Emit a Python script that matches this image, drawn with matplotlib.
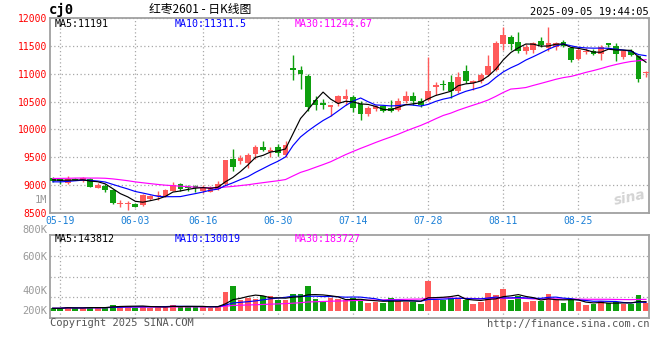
import numpy as np
import pandas as pd
import matplotlib
matplotlib.use('Agg')
import matplotlib.pyplot as plt

# daily bars of cj0, 2025-05-16 .. 2025-09-05
opens = [9125, 9119, 9030, 9110, 9066, 9107, 8947, 8988, 8911, 8668,
         8665, 8661, 8649, 8750, 8798, 8810, 8900, 9018, 8970, 8976,
         8899, 8881, 8929, 9018, 9476, 9435, 9405, 9553, 9690, 9601,
         9690, 9536, 11101, 11060, 10964, 10536, 10470, 10399, 10476, 10548,
         10577, 10458, 10268, 10369, 10417, 10387, 10357, 10518, 10595, 10518,
         10536, 10756, 10810, 10851, 10684, 11041, 10833, 10863, 10982, 11071,
         11535, 11654, 11577, 11399, 11428, 11589, 11458, 11476, 11577, 11458,
         11262, 11381, 11410, 11357, 11547, 11500, 11297, 11416, 11321, 11012]
highs = [9149, 9137, 9160, 9135, 9140, 9130, 9030, 9018, 8930, 8732,
         8720, 8680, 8840, 8830, 8887, 8930, 9065, 9040, 9006, 9000,
         9000, 8976, 9078, 9455, 9643, 9536, 9583, 9720, 9786, 9690,
         9730, 9790, 11340, 11131, 11000, 10595, 10554, 10440, 10613, 10726,
         10625, 10506, 10417, 10446, 10446, 10536, 10565, 10696, 10666, 10565,
         11292, 10851, 10893, 10982, 11030, 11160, 10893, 11012, 11339, 11580,
         11845, 11696, 11750, 11535, 11577, 11654, 11845, 11577, 11607, 11488,
         11458, 11458, 11440, 11517, 11559, 11547, 11428, 11440, 11339, 11054]
lows = [9048, 9018, 9020, 9085, 9050, 8960, 8940, 8869, 8665, 8601,
        8554, 8600, 8630, 8730, 8732, 8795, 8887, 8900, 8900, 8880,
        8857, 8870, 8920, 9000, 9256, 9375, 9315, 9476, 9613, 9512,
        9524, 9512, 10893, 10726, 10327, 10357, 10369, 10238, 10417, 10446,
        10315, 10167, 10238, 10327, 10315, 10315, 10327, 10476, 10446, 10399,
        10506, 10625, 10714, 10565, 10655, 10833, 10714, 10833, 10960, 11040,
        11428, 11428, 11369, 11357, 11369, 11488, 11399, 11428, 11476, 11202,
        11238, 11357, 11339, 11250, 11488, 11220, 11262, 11310, 10845, 10940]
closes = [9077, 9066, 9107, 9100, 9125, 8970, 9006, 8911, 8673, 8680,
          8675, 8613, 8827, 8810, 8827, 8911, 9000, 8929, 8950, 8940,
          8958, 8940, 9018, 9446, 9333, 9482, 9536, 9690, 9631, 9631,
          9583, 9714, 11060, 10994, 10405, 10446, 10446, 10434, 10595, 10607,
          10387, 10268, 10387, 10417, 10339, 10339, 10506, 10607, 10506, 10434,
          10696, 10804, 10792, 10696, 10934, 10863, 10875, 10982, 11131, 11559,
          11696, 11535, 11399, 11476, 11547, 11517, 11547, 11559, 11500, 11238,
          11428, 11416, 11357, 11488, 11512, 11357, 11399, 11339, 10905, 11030]
volumes = [42000, 42000, 67000, 42000, 46000, 67000, 42000, 67000, 93000, 82000,
           82000, 51000, 78000, 51000, 67000, 67000, 93000, 67000, 67000, 67000,
           67000, 51000, 82000, 290000, 388000, 171000, 197000, 186000, 233000, 233000,
           171000, 171000, 264000, 264000, 388000, 186000, 144000, 197000, 186000, 171000,
           197000, 155000, 129000, 144000, 129000, 206000, 155000, 144000, 144000, 109000,
           470000, 171000, 171000, 197000, 206000, 171000, 109000, 135000, 279000, 248000,
           341000, 171000, 233000, 135000, 155000, 155000, 264000, 171000, 119000, 171000,
           135000, 93000, 109000, 155000, 119000, 135000, 109000, 109000, 248000, 119000]
# closes before the first bar (off chart), estimated from where the MA lines start
prior_closes = [9000, 9040, 9010, 9060, 9030, 8990, 9020, 9010,
                9150, 9190, 9240, 9300, 9280, 9260, 9310, 9250, 9220, 9200, 9210, 9198,
                9080, 9020, 8990, 9010, 9025,
                9110, 9090, 9098, 9100]

tick_idx = [1, 11, 20, 30, 40, 50, 60, 70]
tick_labels = ['05-19', '06-03', '06-16', '06-30', '07-14', '07-28', '08-11', '08-25']

price_ma_text = ['MA5:11191', 'MA10:11311.5', 'MA30:11244.67']
vol_ma_text = ['MA5:143812', 'MA10:130019', 'MA30:183727']
vol_labels = ['1M', '800K', '600K', '400K', '200K']

W, H = 660, 360
MONO = 'DejaVu Sans Mono'
RED = '#ff5a5a'
GREEN = '#0e9f0e'
GRID = '#a8a8a8'
MA_COLORS = ['black', '#0000ff', '#ff00ff']

n = len(closes)
x = np.arange(n)
o = np.array(opens, float)
c = np.array(closes, float)
up = c >= o
cols = [RED if u else GREEN for u in up]

allc = pd.Series(prior_closes + closes, dtype=float)
npre = len(prior_closes)
ma5 = allc.rolling(5).mean().to_numpy()[npre:]
ma10 = allc.rolling(10).mean().to_numpy()[npre:]
ma30 = allc.rolling(30).mean().to_numpy()[npre:]
vs = pd.Series(volumes, dtype=float)
vma5 = vs.rolling(5, min_periods=1).mean()
vma10 = vs.rolling(10, min_periods=1).mean()
vma30 = vs.rolling(30, min_periods=1).mean()

fig = plt.figure(figsize=(W / 100, H / 100), dpi=100)


def rect(l, t, r, b):
    return [l / W, 1 - b / H, (r - l) / W, (b - t) / H]


def ftext(px, py, s, **kw):
    kw.setdefault('va', 'center')
    fig.text(px / W, 1 - py / H, s, **kw)


ax = fig.add_axes(rect(50, 18, 649, 213))
axv = fig.add_axes(rect(50, 235, 649, 318))

for a in (ax, axv):
    a.set_xlim(-0.36, 79.4)
    a.set_xticks(tick_idx)
    a.grid(True, color=GRID, linestyle=(0, (1, 2)), linewidth=0.9)
    a.set_axisbelow(True)
    a.tick_params(length=0)
    for s in a.spines.values():
        s.set_color('#a0a0a0')
        s.set_linewidth(1.3)

# price panel
ax.vlines(x, lows, highs, colors=cols, linewidth=1.0, zorder=2)
body = np.maximum(np.abs(c - o), 12)
ax.bar(x, body, bottom=np.minimum(o, c), width=0.76, color=cols, linewidth=0, zorder=3)
ax.plot(x, ma30, color=MA_COLORS[2], lw=0.85, zorder=4)
ax.plot(x, ma10, color=MA_COLORS[1], lw=0.85, zorder=4)
ax.plot(x, ma5, color=MA_COLORS[0], lw=0.85, zorder=4)
ax.set_ylim(8500, 12000)
ax.set_yticks(range(8500, 12001, 500))
ax.tick_params(axis='y', colors='red', labelsize=7, pad=2)
ax.tick_params(axis='x', colors='#1a7fd6', labelsize=7, pad=2.5)
ax.set_xticklabels(tick_labels, family=MONO)
for t in ax.get_yticklabels():
    t.set_family(MONO)

# volume panel
vtop = 76 * 15500
vbot = -7 * 15500
axv.bar(x, volumes, width=0.76, color=cols, linewidth=0, zorder=2)
axv.plot(x, vma30, color=MA_COLORS[2], lw=0.85, zorder=3)
axv.plot(x, vma10, color=MA_COLORS[1], lw=0.85, zorder=3)
axv.plot(x, vma5, color=MA_COLORS[0], lw=0.85, zorder=3)
axv.set_ylim(vbot, vtop)
axv.set_yticks(np.linspace(vbot, vtop, 5)[1:-1])
axv.set_yticklabels([])
axv.set_xticklabels([])

for lab, py in zip(vol_labels, [200, 230, 257, 291, 311]):
    ftext(47, py, lab, ha='right', color='#999999', family=MONO, fontsize=7.5)

# headers
ftext(49, 10, 'cj0', ha='left', color='black', family=MONO, fontsize=10, fontweight='bold')
ftext(200, 10, '红枣2601 - 日K线图', ha='center', color='black',
      family=['Noto Sans CJK SC', 'DejaVu Sans'], fontsize=8.5)
ftext(649, 12, '2025-09-05 19:44:05', ha='right', color='black', family=MONO, fontsize=7.5)

for txt, col, px in zip(price_ma_text, MA_COLORS, [55, 175, 295]):
    ftext(px, 24, txt, ha='left', color=col, family=MONO, fontsize=7.2)
for txt, col, px in zip(vol_ma_text, MA_COLORS, [55, 175, 295]):
    ftext(px, 239, txt, ha='left', color=col, family=MONO, fontsize=7.2)

ftext(50, 323, 'Copyright 2025 SINA.COM', ha='left', color='#555555', family=MONO, fontsize=7.5)
ftext(649, 324, 'http://finance.sina.com.cn', ha='right', color='#555555', family=MONO, fontsize=7.5)

ftext(630, 198, 'sina', ha='center', color='#d4d4d4', fontsize=10, fontweight='bold',
      style='italic', rotation=12)

fig.savefig('out.png', dpi=100, facecolor='white')
